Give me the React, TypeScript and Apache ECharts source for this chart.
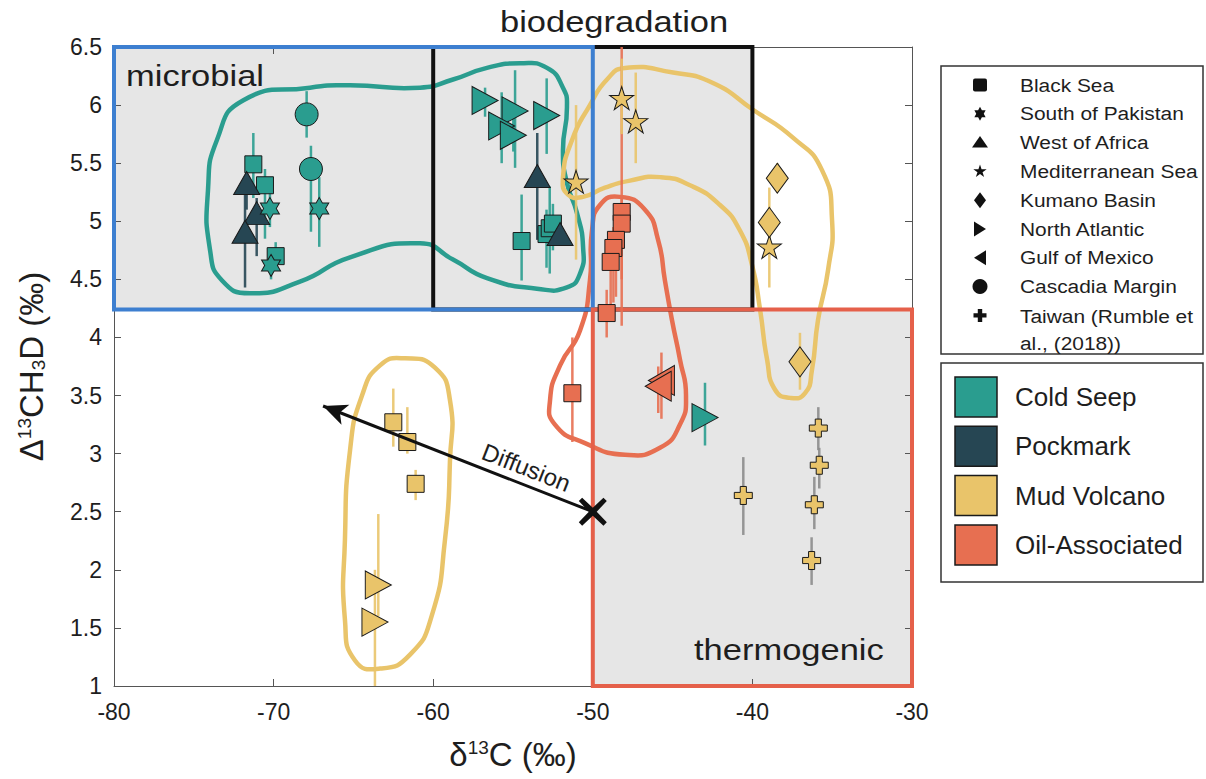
import React, { useEffect, useRef } from 'react';
import * as echarts from 'echarts';

// ---------------- data ----------------
// point: [group index, δ13C, Δ13CH3D, error low, error high]
type P = [number, number, number, number, number];

const groups = ['Cold Seep', 'Pockmark', 'Mud Volcano', 'Oil-Associated'];
const groupColors = ['#2a9d8f', '#264653', '#e9c46a', '#e76f51'];

const xMin = -80, xMax = -30, xStep = 10;
const yMin = 1, yMax = 6.5, yStep = 0.5;

const blackSea: P[] = [
  [0, -71.27, 5.49, 5.2, 5.76],
  [0, -70.54, 5.31, 4.85, 5.45],
  [0, -69.87, 4.70, 4.6, 4.82],
  [0, -54.46, 4.83, 4.49, 5.23],
  [0, -52.9, 4.89, 4.6, 5.1],
  [0, -52.7, 4.94, 4.55, 5.3],
  [0, -52.5, 4.98, 4.75, 5.15],
  [2, -62.5, 3.27, 3.06, 3.56],
  [2, -61.62, 3.10, 3.0, 3.4],
  [2, -61.1, 2.74, 2.6, 2.86],
  [3, -48.19, 5.08, 4.1, 6.5],
  [3, -48.19, 4.98, 4.5, 5.2],
  [3, -48.55, 4.84, 4.35, 5.0],
  [3, -48.71, 4.77, 4.3, 4.95],
  [3, -48.88, 4.65, 4.25, 4.9],
  [3, -49.13, 4.21, 4.0, 4.41],
  [3, -51.28, 3.52, 3.1, 4.0],
];
const southPakistan: P[] = [
  [0, -70.23, 5.11, 4.95, 5.25],
  [0, -70.16, 4.62, 4.5, 4.72],
  [0, -67.14, 5.11, 4.78, 5.38],
];
const westAfrica: P[] = [
  [1, -71.69, 5.33, 5.1, 5.5],
  [1, -71.06, 5.07, 4.7, 5.2],
  [1, -71.79, 4.91, 4.43, 5.35],
  [1, -53.48, 5.39, 4.84, 5.76],
  [1, -52.05, 4.89, 4.8, 5.0],
];
const mediterranean: P[] = [
  [2, -51.05, 5.34, 4.67, 6.0],
  [2, -48.19, 6.06, 5.75, 6.4],
  [2, -47.31, 5.86, 5.5, 6.28],
  [2, -38.94, 4.78, 4.43, 5.29],
];
const kumano: P[] = [
  [2, -38.44, 5.37, 5.25, 5.5],
  [2, -38.94, 4.99, 4.85, 5.1],
  [2, -37.02, 3.79, 3.55, 4.04],
];
const northAtlantic: P[] = [
  [0, -56.75, 6.04, 5.9, 6.15],
  [0, -54.87, 5.95, 5.46, 6.3],
  [0, -55.71, 5.82, 5.5, 6.11],
  [0, -54.98, 5.74, 5.6, 5.9],
  [0, -52.89, 5.91, 5.58, 6.23],
  [0, -42.97, 3.31, 3.07, 3.61],
  [2, -63.44, 1.87, 1.6, 2.48],
  [2, -63.65, 1.55, 1.0, 2.0],
];
const gulfMexico: P[] = [
  [3, -45.7, 3.63, 3.3, 3.87],
  [3, -45.9, 3.58, 3.35, 3.75],
];
const cascadia: P[] = [
  [0, -67.93, 5.92, 5.72, 6.12],
  [0, -67.66, 5.45, 4.91, 5.65],
];
const taiwan: P[] = [
  [2, -40.57, 2.64, 2.3, 2.97],
  [2, -35.87, 3.22, 3.03, 3.40],
  [2, -35.81, 2.90, 2.7, 3.05],
  [2, -36.12, 2.56, 2.35, 2.8],
  [2, -36.29, 2.08, 1.87, 2.28],
];

// regions (δ13C range, Δ13CH3D range)
const regionNames = ['microbial', 'biodegradation', 'thermogenic'];
const regionX = [[-80, -50], [-60, -40], [-50, -30]];
const regionY = [[4.24, 6.5], [4.24, 6.5], [1, 4.24]];

// hand-drawn group outlines (data coordinates)
const coldSeepOutline = [
  [-71.92, 6.04], [-67.72, 6.15], [-65.21, 6.17], [-60.83, 6.15], [-58.76, 6.22], [-56.63, 6.32],
  [-54.56, 6.36], [-52.87, 6.32], [-51.87, 6.15], [-51.62, 5.98], [-51.87, 5.61], [-51.62, 5.33],
  [-50.99, 5.07], [-50.61, 4.78], [-50.8, 4.55], [-51.62, 4.43], [-53.5, 4.42], [-56.63, 4.51],
  [-58.76, 4.67], [-60.83, 4.81], [-65.21, 4.69], [-68.35, 4.48], [-71.48, 4.38], [-73.23, 4.49],
  [-73.98, 4.75], [-74.11, 5.27], [-73.55, 5.7],
];
const mudVolcanoOutlineUpper = [
  [-49.11, 6.22], [-47.98, 6.32], [-44.97, 6.28], [-42.47, 6.19], [-39.96, 5.96], [-37.46, 5.72],
  [-35.64, 5.44], [-35.01, 5.01], [-35.26, 4.58], [-35.89, 4.15], [-36.27, 3.72], [-36.7, 3.52],
  [-37.64, 3.48], [-38.58, 3.55], [-39.08, 3.81], [-39.52, 4.24], [-40.02, 4.62], [-40.78, 4.92],
  [-42.03, 5.14], [-43.91, 5.31], [-45.79, 5.38], [-47.67, 5.35], [-49.24, 5.29], [-50.61, 5.21],
  [-51.55, 5.23], [-51.87, 5.37], [-51.3, 5.7], [-50.18, 6.0],
];
const oilOutline = [
  [-48.3, 5.21], [-46.73, 5.1], [-45.91, 4.84], [-45.48, 4.49], [-45.04, 4.15], [-44.54, 3.81],
  [-44.16, 3.5], [-44.54, 3.25], [-45.79, 3.05], [-47.98, 2.99], [-50.49, 3.09], [-52.37, 3.25],
  [-52.68, 3.46], [-52.05, 3.76], [-50.8, 4.06], [-50.18, 4.49], [-50.05, 4.92], [-49.55, 5.14],
];
const mudVolcanoOutlineLower = [
  [-61.77, 3.82], [-59.89, 3.74], [-58.95, 3.46], [-58.95, 2.94], [-59.26, 2.26], [-60.08, 1.61],
  [-61.45, 1.27], [-63.33, 1.15], [-64.9, 1.22], [-65.53, 1.57], [-65.53, 2.26], [-65.21, 3.03],
  [-64.46, 3.5], [-63.33, 3.76],
];
const outlines = [coldSeepOutline, mudVolcanoOutlineUpper, oilOutline, mudVolcanoOutlineLower];
const outlineGroup = [0, 2, 3, 2];

const diffusionFrom = [-50, 2.5];
const diffusionTo = [-66.9, 3.41];
const diffusionLabel = 'Diffusion';

// ---------------- styles ----------------
const FONT = '"Liberation Sans", Arial, Helvetica, sans-serif';
const TEXT = '#1e1e1e';

const SHAPES: Record<string, number[][]> = {
  hexstar: [[50, 0], [64.43, 25], [93.3, 25], [78.87, 50], [93.3, 75], [64.43, 75], [50, 100], [35.57, 75], [6.7, 75], [21.13, 50], [6.7, 25], [35.57, 25]],
  star5: [[50, 0], [61.2, 34.5], [97.6, 34.5], [68.2, 55.9], [79.4, 90.5], [50, 69.1], [20.6, 90.5], [31.8, 55.9], [2.4, 34.5], [38.8, 34.5]],
  triangle: [[50, 0], [100, 87], [0, 87]],
  diamond: [[50, 0], [100, 50], [50, 100], [0, 50]],
  rtri: [[0, 0], [100, 50], [0, 100]],
  ltri: [[100, 0], [0, 50], [100, 100]],
  plus: [[33, 0], [67, 0], [67, 33], [100, 33], [100, 67], [67, 67], [67, 100], [33, 100], [33, 67], [0, 67], [0, 33], [33, 33]],
};
const toPath = (pts: number[][]) => 'path://M' + pts.map((p) => p.join(',')).join(' L') + ' Z';

const SYMBOL: Record<string, { symbol: string; size: number | number[]; legend: number[] }> = {
  square: { symbol: 'rect', size: 17, legend: [14, 13] },
  hexstar: { symbol: toPath(SHAPES.hexstar), size: [19, 22], legend: [13, 14] },
  triangle: { symbol: toPath(SHAPES.triangle), size: [26, 23], legend: [16, 13] },
  star5: { symbol: toPath(SHAPES.star5), size: [24, 23], legend: [14, 14] },
  diamond: { symbol: toPath(SHAPES.diamond), size: [22, 30], legend: [12, 16] },
  rtri: { symbol: toPath(SHAPES.rtri), size: [26, 28], legend: [12, 15] },
  ltri: { symbol: toPath(SHAPES.ltri), size: [26, 30], legend: [12, 15] },
  circle: { symbol: 'circle', size: 23, legend: [15, 15] },
  plus: { symbol: toPath(SHAPES.plus), size: 18, legend: [13, 13] },
};

const locations = [
  { name: 'Black Sea', data: blackSea, shape: 'square' },
  { name: 'South of Pakistan', data: southPakistan, shape: 'hexstar' },
  { name: 'West of Africa', data: westAfrica, shape: 'triangle' },
  { name: 'Mediterranean Sea', data: mediterranean, shape: 'star5' },
  { name: 'Kumano Basin', data: kumano, shape: 'diamond' },
  { name: 'North Atlantic', data: northAtlantic, shape: 'rtri' },
  { name: 'Gulf of Mexico', data: gulfMexico, shape: 'ltri' },
  { name: 'Cascadia Margin', data: cascadia, shape: 'circle' },
  { name: 'Taiwan (Rumble et al., (2018))', data: taiwan, shape: 'plus' },
];
// drawing order of marker series (later on top)
const drawOrder = [0, 2, 1, 7, 5, 6, 3, 4, 8];

const regionColors = ['#3d7fd0', '#111111', '#e5604a'];
const regionDrawOrder = [1, 0, 2];
const X_PATH = 'path://M12,0 L50,36 L88,0 L100,12 L64,50 L100,88 L88,100 L50,64 L12,100 L0,88 L36,50 L0,12 Z';

function buildOption() {
  const errBars: { x: number; lo: number; hi: number; color: string }[] = [];
  locations.forEach((loc) =>
    loc.data.forEach((p) =>
      errBars.push({ x: p[1], lo: p[3], hi: p[4], color: loc.shape === 'plus' ? '#8c8c8c' : groupColors[p[0]] })
    )
  );

  const rectOf = (api: any, i: number) => {
    const a = api.coord([regionX[i][0], regionY[i][1]]);
    const b = api.coord([regionX[i][1], regionY[i][0]]);
    return { x: a[0], y: a[1], width: b[0] - a[0], height: b[1] - a[1] };
  };

  const series: any[] = [
    {
      type: 'custom', name: 'region-fill', z: 0, silent: true,
      data: regionNames.map((_, i) => [regionX[i][0], regionY[i][0]]),
      renderItem: (params: any, api: any) => ({
        type: 'rect', shape: rectOf(api, params.dataIndex), style: { fill: '#e6e6e6' },
      }),
    },
    {
      type: 'custom', name: 'outlines', z: 1, silent: true,
      data: outlines.map((o) => o[0]),
      renderItem: (params: any, api: any) => ({
        type: 'polygon',
        shape: { points: outlines[params.dataIndex].map((p) => api.coord(p)), smooth: 0.55 },
        style: { fill: 'none', stroke: groupColors[outlineGroup[params.dataIndex]], lineWidth: 4.5 },
      }),
    },
    {
      type: 'custom', name: 'region-border', z: 2, silent: true,
      data: regionDrawOrder.map((i) => [regionX[i][0], regionY[i][0]]),
      renderItem: (params: any, api: any) => {
        const i = regionDrawOrder[params.dataIndex];
        return {
          type: 'rect', shape: rectOf(api, i),
          style: { fill: 'none', stroke: regionColors[i], lineWidth: 4 },
        };
      },
    },
    {
      type: 'custom', name: 'error-bars', z: 3, silent: true,
      data: errBars.map((e) => [e.x, e.lo, e.hi]),
      renderItem: (params: any, api: any) => {
        const a = api.coord([api.value(0), api.value(1)]);
        const b = api.coord([api.value(0), api.value(2)]);
        return {
          type: 'line', shape: { x1: a[0], y1: a[1], x2: b[0], y2: b[1] },
          style: { stroke: errBars[params.dataIndex].color, lineWidth: 2.5, opacity: 0.9 },
        };
      },
    },
  ];

  drawOrder.forEach((li) => {
    const loc = locations[li];
    const s = SYMBOL[loc.shape];
    series.push({
      type: 'scatter', name: loc.name, z: 4,
      symbol: s.symbol, symbolSize: s.size,
      itemStyle: { borderColor: '#1a1a1a', borderWidth: 1, opacity: 1 },
      data: loc.data.map((p) => ({ value: [p[1], p[2]], itemStyle: { color: groupColors[p[0]] } })),
    });
  });

  series.push({
    type: 'scatter', name: 'diffusion', z: 6, silent: true,
    data: [diffusionFrom], symbol: X_PATH, symbolSize: 28,
    itemStyle: { color: '#111', opacity: 1 },
    markLine: {
      silent: true, symbol: ['arrow', 'none'], symbolSize: [16, 24],
      lineStyle: { color: '#111', width: 3, type: 'solid' },
      label: { show: false },
      data: [[{ coord: diffusionTo }, { coord: diffusionFrom }]],
    },
  });

  // ---------- graphic: titles & legends ----------
  const graphic: any[] = [];
  const bigText = (text: string, x: number, y: number, align: string) => ({
    type: 'text', x, y, scaleX: 1.15, z: 10,
    style: { text, fontSize: 30, fontFamily: FONT, fill: TEXT, align, verticalAlign: 'middle' },
  });
  graphic.push(bigText('biodegradation', 500, 22, 'left'));
  graphic.push(bigText('microbial', 126, 76, 'left'));
  graphic.push(bigText('thermogenic', 694, 650, 'left'));

  // legend 1: locations
  graphic.push({ type: 'rect', shape: { x: 941, y: 66, width: 262, height: 288 }, style: { fill: '#fff', stroke: '#333', lineWidth: 1.5 }, z: 10 });
  locations.forEach((loc, i) => {
    const cy = 85 + i * 28.8;
    const cx = 980;
    const [w, h] = SYMBOL[loc.shape].legend;
    let el: any;
    if (loc.shape === 'square') el = { type: 'rect', shape: { x: cx - w / 2, y: cy - h / 2, width: w, height: h, r: 2 } };
    else if (loc.shape === 'circle') el = { type: 'circle', shape: { cx, cy, r: w / 2 } };
    else el = { type: 'polygon', shape: { points: SHAPES[loc.shape].map((p) => [cx - w / 2 + (p[0] / 100) * w, cy - h / 2 + (p[1] / 100) * h]) } };
    el.style = { fill: '#111' };
    el.z = 11;
    graphic.push(el);
    const isTaiwan = loc.shape === 'plus';
    graphic.push({
      type: 'text', x: 1020, y: isTaiwan ? cy - 13 : cy, scaleX: 1.1, z: 11,
      style: {
        text: isTaiwan ? 'Taiwan (Rumble et\nal., (2018))' : loc.name,
        fontSize: 19, lineHeight: 27, fontFamily: FONT, fill: TEXT, align: 'left',
        verticalAlign: isTaiwan ? 'top' : 'middle',
      },
    });
  });

  // legend 2: groups
  graphic.push({ type: 'rect', shape: { x: 941, y: 363, width: 262, height: 219 }, style: { fill: '#fff', stroke: '#333', lineWidth: 1.5 }, z: 10 });
  groups.forEach((g, i) => {
    const cy = 397 + i * 49.3;
    graphic.push({ type: 'rect', z: 11, shape: { x: 955, y: cy - 20, width: 42, height: 40 }, style: { fill: groupColors[i], stroke: '#1a1a1a', lineWidth: 1.5 } });
    graphic.push({ type: 'text', x: 1015, y: cy, z: 11, style: { text: g, fontSize: 26, fontFamily: FONT, fill: TEXT, align: 'left', verticalAlign: 'middle' } });
  });

  const axisCommon = {
    type: 'value', min: xMin, max: xMax, interval: xStep,
    axisLine: { show: true, onZero: false, lineStyle: { color: '#555', width: 1 } },
    axisTick: { show: true, inside: true, length: 7, lineStyle: { color: '#555' } },
    splitLine: { show: false },
  };
  const yCommon = {
    type: 'value', min: yMin, max: yMax, interval: yStep,
    axisLine: { show: true, onZero: false, lineStyle: { color: '#555', width: 1 } },
    axisTick: { show: true, inside: true, length: 7, lineStyle: { color: '#555' } },
    splitLine: { show: false },
  };

  return {
    animation: false,
    backgroundColor: '#ffffff',
    textStyle: { fontFamily: FONT },
    grid: { left: 114, top: 47, width: 798, height: 639, containLabel: false },
    xAxis: [
      {
        ...axisCommon, position: 'bottom',
        axisLabel: { fontSize: 23, color: TEXT, margin: 14, fontFamily: FONT },
        name: 'δ{sup|13}C (‰)', nameLocation: 'middle', nameGap: 52,
        nameTextStyle: {
          fontSize: 33, color: TEXT, fontFamily: FONT,
          rich: { sup: { fontSize: 19, verticalAlign: 'top', color: TEXT, fontFamily: FONT } },
        },
      },
      { ...axisCommon, position: 'top', axisLabel: { show: false } },
    ],
    yAxis: [
      {
        ...yCommon, position: 'left',
        axisLabel: { fontSize: 23, color: TEXT, margin: 12, fontFamily: FONT },
        name: 'Δ{sup|13}CH{sub|3}D (‰)', nameLocation: 'middle', nameGap: 66, nameRotate: 90,
        nameTextStyle: {
          fontSize: 33, color: TEXT, fontFamily: FONT,
          rich: {
            sup: { fontSize: 19, verticalAlign: 'top', color: TEXT, fontFamily: FONT },
            sub: { fontSize: 19, verticalAlign: 'bottom', color: TEXT, fontFamily: FONT },
          },
        },
      },
      { ...yCommon, position: 'right', axisLabel: { show: false } },
    ],
    series,
    graphic,
  };
}

export default function App() {
  const ref = useRef<HTMLDivElement>(null);
  useEffect(() => {
    if (!ref.current) return;
    const chart = echarts.init(ref.current, null, { renderer: 'svg' });
    const option: any = buildOption();
    chart.setOption(option);
    // place the "Diffusion" label along the arrow, using the chart's own scales
    const a = chart.convertToPixel({ xAxisIndex: 0, yAxisIndex: 0 }, diffusionFrom) as number[];
    const b = chart.convertToPixel({ xAxisIndex: 0, yAxisIndex: 0 }, diffusionTo) as number[];
    if (a && b) {
      const dx = b[0] - a[0], dy = b[1] - a[1];
      const len = Math.sqrt(dx * dx + dy * dy);
      const ux = dx / len, uy = dy / len;
      const nx = -uy, ny = ux; // normal
      const sgn = ny < 0 ? 1 : -1; // choose the upward normal
      const along = 78, off = 17;
      const cx = a[0] + ux * along + sgn * nx * off;
      const cy = a[1] + uy * along + sgn * ny * off;
      const angle = Math.atan2(a[1] - b[1], a[0] - b[0]); // left-to-right direction
      option.graphic.push({
        type: 'text', x: cx, y: cy, rotation: -angle, z: 12,
        style: { text: diffusionLabel, fontSize: 24, fontFamily: FONT, fill: TEXT, align: 'center', verticalAlign: 'middle' },
      });
      chart.setOption(option, true);
    }
    return () => chart.dispose();
  }, []);
  return (
    <div
      ref={ref}
      style={{ position: 'absolute', left: 0, top: 0, width: 1206, height: 779, background: '#fff' }}
    />
  );
}
